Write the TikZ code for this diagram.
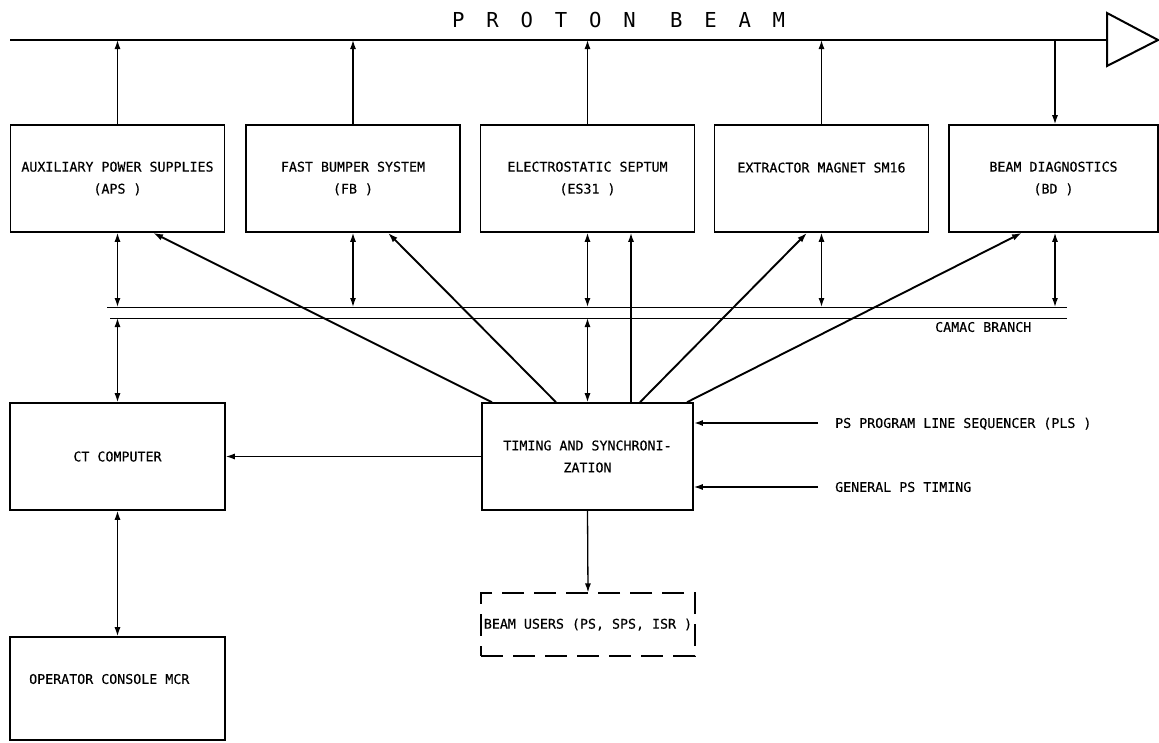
\documentclass[tikz,border=0pt]{standalone}
\usepackage{fontspec}
\usetikzlibrary{arrows.meta,calc}
\newfontfamily\plotfont[FakeBold=0.4]{DejaVu Sans Mono}
\newfontfamily\beamfont[LetterSpace=106]{DejaVu Sans Mono}
\begin{document}
\begin{tikzpicture}[x=1pt,y=-1pt,
  box/.style={draw,line width=1.6pt,inner sep=0pt,align=center,
    font=\plotfont\fontsize{13.3}{22}\selectfont},
  topbox/.style={box,minimum width=214pt,minimum height=107pt},
  lbl/.style={inner sep=0pt,font=\plotfont\fontsize{13.3}{16}\selectfont,
    text height=9.7pt,text depth=0pt},
  conn/.style={line width=1.3pt},
  diag/.style={line width=1.9pt,-{Latex[length=10pt,width=6.5pt]}},
  arr/.style={-{Latex[length=9pt,width=6pt]}},
  darr/.style={{Latex[length=9pt,width=6pt]}-{Latex[length=9pt,width=6pt]}},
  camacline/.style={line width=0.9pt}
]
\useasboundingbox (0,0) rectangle (1159,742);

% proton beam
\coordinate (beamL) at (10,40);
\coordinate (tipL) at (1107,40);
\draw[line width=2.2pt] (beamL) -- (tipL);
\draw[line width=2pt,line join=miter] (1107,13) -- (1158,40) -- (1107,66) -- cycle;
\node[anchor=base west,inner sep=0pt,font=\beamfont\fontsize{20.6}{24}\selectfont] (ptitle) at (452,27) {PROTON BEAM};

% top boxes
\node[topbox] (aps) at (117.5,178.5) {AUXILIARY POWER SUPPLIES\\(APS )};
\node[topbox] (fb) at (353,178.5) {FAST BUMPER SYSTEM\\(FB )};
\node[topbox] (es) at (587.5,178.5) {ELECTROSTATIC SEPTUM\\(ES31 )};
\node[topbox] (sm) at (821.5,178.5) {EXTRACTOR MAGNET SM16\\\mbox{}};
\node[box,minimum width=209pt,minimum height=107pt] (bd) at (1053.5,178.5) {BEAM DIAGNOSTICS\\(BD )};

% lower boxes
\node[box,minimum width=215pt,minimum height=107pt] (ct) at (117.5,456.5) {CT COMPUTER};
\node[box,minimum width=215pt,minimum height=103pt] (op) at (117.5,688.5) {};
\node[lbl,anchor=west] (optext) at (29,679) {OPERATOR CONSOLE MCR};
\node[box,minimum width=211pt,minimum height=107pt] (timing) at (587.5,456.5) {TIMING AND SYNCHRONI-\\ZATION};
\node[box,line width=1.1pt,dash pattern=on 22pt off 10pt,minimum width=214pt,minimum height=63pt] (users) at (588,624.5) {BEAM USERS (PS, SPS, ISR )};

% labels
\node[lbl,anchor=west] (pls) at (835,423) {PS PROGRAM LINE SEQUENCER (PLS )};
\node[lbl,anchor=west] (gen) at (835,487) {GENERAL PS TIMING};
\node[lbl,anchor=west] (camac) at (935,327) {CAMAC BRANCH};

% beam connections
\draw[conn,arr] (aps.north) -- (aps.north |- beamL);
\draw[conn,arr] (fb.north) -- (fb.north |- beamL);
\draw[conn,arr] (es.north) -- (es.north |- beamL);
\draw[conn,arr] (sm.north) -- (sm.north |- beamL);
\draw[conn,arr] ([xshift=1.5pt]bd.north |- beamL) -- ([xshift=1.5pt]bd.north);

% CAMAC branch
\coordinate (camA1) at (107,307);
\coordinate (camA2) at (1067,307);
\coordinate (camB1) at (110,318);
\coordinate (camB2) at (1067,318);
\draw[camacline] (camA1) -- (camA2);
\draw[camacline] (camB1) -- (camB2);

\draw[conn,darr] (aps.south) -- (aps.south |- camA1);
\draw[conn,darr] (fb.south) -- (fb.south |- camA1);
\draw[conn,darr] (es.south) -- (es.south |- camA1);
\draw[conn,darr] (sm.south) -- (sm.south |- camA1);
\draw[conn,darr] ([xshift=1.5pt]bd.south) -- ([xshift=1.5pt]bd.south |- camA1);
\draw[conn,darr] (aps.south |- camB1) -- (ct.north);
\draw[conn,darr] (es.south |- camB1) -- (timing.north);

% timing fan-out
\draw[diag] ([xshift=-95.5pt]timing.north) -- ([xshift=35.5pt]aps.south);
\draw[diag] ([xshift=-31.5pt]timing.north) -- ([xshift=35pt]fb.south);
\draw[conn,line width=1.5pt,arr] ([xshift=43.5pt]timing.north) -- ([xshift=43.5pt]es.south);
\draw[diag] ([xshift=52.5pt]timing.north) -- ([xshift=-14.5pt]sm.south);
\draw[diag] ([xshift=99.5pt]timing.north) -- ([xshift=-31.5pt]bd.south);

% other connections
\draw[conn,arr] (timing.west) -- (ct.east);
\draw[conn,darr] (ct.south) -- (op.north);
\draw[conn,arr] (timing.south) -- (users.north);
\draw[line width=1.9pt,arr] ([xshift=-17pt]pls.west) -- (pls.west -| timing.east);
\draw[conn,arr] ([xshift=-17pt]gen.west) -- (gen.west -| timing.east);
\end{tikzpicture}
\end{document}
